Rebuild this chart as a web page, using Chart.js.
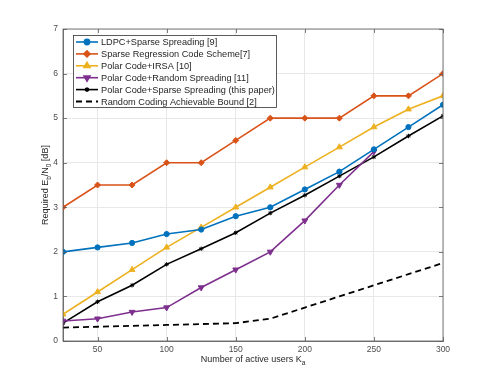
<!DOCTYPE html>
<html>
<head>
<meta charset="utf-8">
<script src="https://cdn.jsdelivr.net/npm/chart.js@4.4.0/dist/chart.umd.min.js"></script>
<style>
  html, body { margin: 0; padding: 0; background: #fff; }
  #wrap { width: 491px; height: 384px; position: relative; }
</style>
</head>
<body>
<div id="wrap"><canvas id="myChart" width="491" height="384"></canvas></div>
<script>
// Data
const users = [25, 50, 75, 100, 125, 150, 175, 200, 225, 250, 275, 300];
const ldpcSparse = [2.0, 2.1, 2.2, 2.4, 2.5, 2.8, 3.0, 3.4, 3.8, 4.3, 4.8, 5.3];
const sparseRegression = [3.0, 3.5, 3.5, 4.0, 4.0, 4.5, 5.0, 5.0, 5.0, 5.5, 5.5, 6.0];
const polarIrsa = [0.6, 1.1, 1.6, 2.1, 2.55, 3.0, 3.45, 3.9, 4.35, 4.8, 5.2, 5.5];
const polarRandom = [0.45, 0.5, 0.65, 0.75, 1.2, 1.6, 2.0, 2.7, 3.5, 4.25];
const polarSparse = [0.4, 0.88, 1.25, 1.72, 2.07, 2.43, 2.87, 3.27, 3.7, 4.13, 4.6, 5.05];
const achievableBound = [0.3, 0.32, 0.34, 0.36, 0.38, 0.4, 0.5, 0.75, 1.0, 1.25, 1.5, 1.75];
const xTicks = [50, 100, 150, 200, 250, 300];
const yTicks = [0, 1, 2, 3, 4, 5, 6, 7];

const FONT = "'Liberation Sans', Arial, sans-serif";

function pts(ys) {
  return ys.map(function (y, i) { return { x: users[i], y: y }; });
}

function series(label, ys, color, style, radius, rot) {
  return {
    label: label,
    data: pts(ys),
    borderColor: color,
    backgroundColor: color,
    borderWidth: 1.6,
    pointStyle: style,
    pointRadius: radius,
    pointRotation: rot || 0,
    pointBorderWidth: 1,
    tension: 0
  };
}

const datasets = [
  series('LDPC+Sparse Spreading [9]', ldpcSparse, '#0072BD', 'circle', 2.6),
  series('Sparse Regression Code Scheme[7]', sparseRegression, '#D95319', 'rectRot', 3.0),
  series('Polar Code+IRSA [10]', polarIrsa, '#EDB120', 'triangle', 3.4),
  series('Polar Code+Random Spreading [11]', polarRandom, '#7E2F8E', 'triangle', 3.4, 180),
  series('Polar Code+Sparse Spreading (this paper)', polarSparse, '#000000', 'star', 2.2),
  {
    label: 'Random Coding Achievable Bound [2]',
    data: pts(achievableBound),
    borderColor: '#000000',
    borderWidth: 1.8,
    borderDash: [6, 4],
    pointRadius: 0,
    tension: 0
  }
];

// legend, box, tick marks and axis titles in MATLAB style
const decorPlugin = {
  id: 'decor',
  afterDraw: function (chart) {
    const ctx = chart.ctx;
    const a = chart.chartArea;
    const xs = chart.scales.x, ys = chart.scales.y;
    ctx.save();

    // box
    ctx.strokeStyle = '#5a5a5a';
    ctx.lineWidth = 0.8;
    ctx.strokeRect(a.left, a.top, a.right - a.left, a.bottom - a.top);

    // inward ticks
    ctx.beginPath();
    xTicks.forEach(function (v) {
      const px = Math.round(xs.getPixelForValue(v)) + 0.5;
      ctx.moveTo(px, a.bottom); ctx.lineTo(px, a.bottom - 4);
      ctx.moveTo(px, a.top); ctx.lineTo(px, a.top + 4);
    });
    yTicks.forEach(function (v) {
      const py = Math.round(ys.getPixelForValue(v)) + 0.5;
      ctx.moveTo(a.left, py); ctx.lineTo(a.left + 4, py);
      ctx.moveTo(a.right, py); ctx.lineTo(a.right - 4, py);
    });
    ctx.stroke();

    // axis titles
    ctx.fillStyle = '#262626';
    ctx.textBaseline = 'alphabetic';
    const main = 'Number of active users K';
    ctx.font = '9px ' + FONT;
    const w1 = ctx.measureText(main).width;
    ctx.font = '6.5px ' + FONT;
    const w2 = ctx.measureText('a').width;
    let x0 = (a.left + a.right) / 2 - (w1 + w2) / 2;
    ctx.font = '9px ' + FONT;
    ctx.textAlign = 'left';
    ctx.fillText(main, x0, 362);
    ctx.font = '6.5px ' + FONT;
    ctx.fillText('a', x0 + w1, 364.5);

    const parts = [['Required E', 0], ['b', 1], ['/N', 0], ['0', 1], [' [dB]', 0]];
    let total = 0;
    parts.forEach(function (p) {
      ctx.font = (p[1] ? '6.5px ' : '9px ') + FONT;
      total += ctx.measureText(p[0]).width;
    });
    ctx.translate(48, (a.top + a.bottom) / 2);
    ctx.rotate(-Math.PI / 2);
    let cx = -total / 2;
    parts.forEach(function (p) {
      ctx.font = (p[1] ? '6.5px ' : '9px ') + FONT;
      ctx.fillText(p[0], cx, p[1] ? 2.5 : 0);
      cx += ctx.measureText(p[0]).width;
    });
    ctx.setTransform(1, 0, 0, 1, 0, 0);

    // legend
    const lx = a.left + 10, ly = a.top + 6, lw = 203, lh = 72;
    ctx.fillStyle = '#fff';
    ctx.fillRect(lx, ly, lw, lh);
    ctx.strokeStyle = '#333';
    ctx.lineWidth = 0.8;
    ctx.strokeRect(lx + 0.5, ly + 0.5, lw, lh);
    ctx.font = '9.2px ' + FONT;
    ctx.textBaseline = 'middle';
    chart.data.datasets.forEach(function (ds, i) {
      const ry = ly + 7 + i * 11.9;
      ctx.save();
      ctx.strokeStyle = ds.borderColor;
      ctx.lineWidth = ds.borderWidth;
      ctx.setLineDash(ds.borderDash || []);
      ctx.beginPath();
      ctx.moveTo(lx + 3, ry);
      ctx.lineTo(lx + 25, ry);
      ctx.stroke();
      ctx.setLineDash([]);
      if (ds.pointRadius > 0) {
        ctx.fillStyle = ds.backgroundColor;
        Chart.helpers.drawPoint(ctx, {
          pointStyle: ds.pointStyle,
          rotation: ds.pointRotation,
          radius: ds.pointRadius,
          borderWidth: 1
        }, lx + 14, ry);
      }
      ctx.restore();
      ctx.fillStyle = '#262626';
      ctx.textAlign = 'left';
      ctx.fillText(ds.label, lx + 28, ry + 0.5);
    });
    ctx.restore();
  }
};

new Chart('myChart', {
  type: 'line',
  data: { datasets: datasets },
  options: {
    responsive: false,
    animation: false,
    devicePixelRatio: 1,
    layout: { padding: { top: 29, right: 48, left: 0, bottom: 0 } },
    plugins: {
      legend: { display: false },
      tooltip: { enabled: false }
    },
    scales: {
      x: {
        type: 'linear',
        min: 25,
        max: 300,
        afterBuildTicks: function (s) { s.ticks = xTicks.map(function (v) { return { value: v }; }); },
        afterFit: function (s) { s.height = 43; },
        grid: { color: '#e8e8e8', drawTicks: false },
        border: { color: '#5a5a5a', width: 0.8 },
        ticks: { padding: 4, color: '#4d4d4d', font: { family: FONT, size: 8.5 }, maxRotation: 0 }
      },
      y: {
        min: 0,
        max: 7,
        afterBuildTicks: function (s) { s.ticks = yTicks.map(function (v) { return { value: v }; }); },
        afterFit: function (s) { s.width = 63; },
        grid: { color: '#e8e8e8', drawTicks: false },
        border: { color: '#5a5a5a', width: 0.8 },
        ticks: { padding: 5, color: '#4d4d4d', font: { family: FONT, size: 8.5 } }
      }
    }
  },
  plugins: [decorPlugin]
});
</script>
</body>
</html>
